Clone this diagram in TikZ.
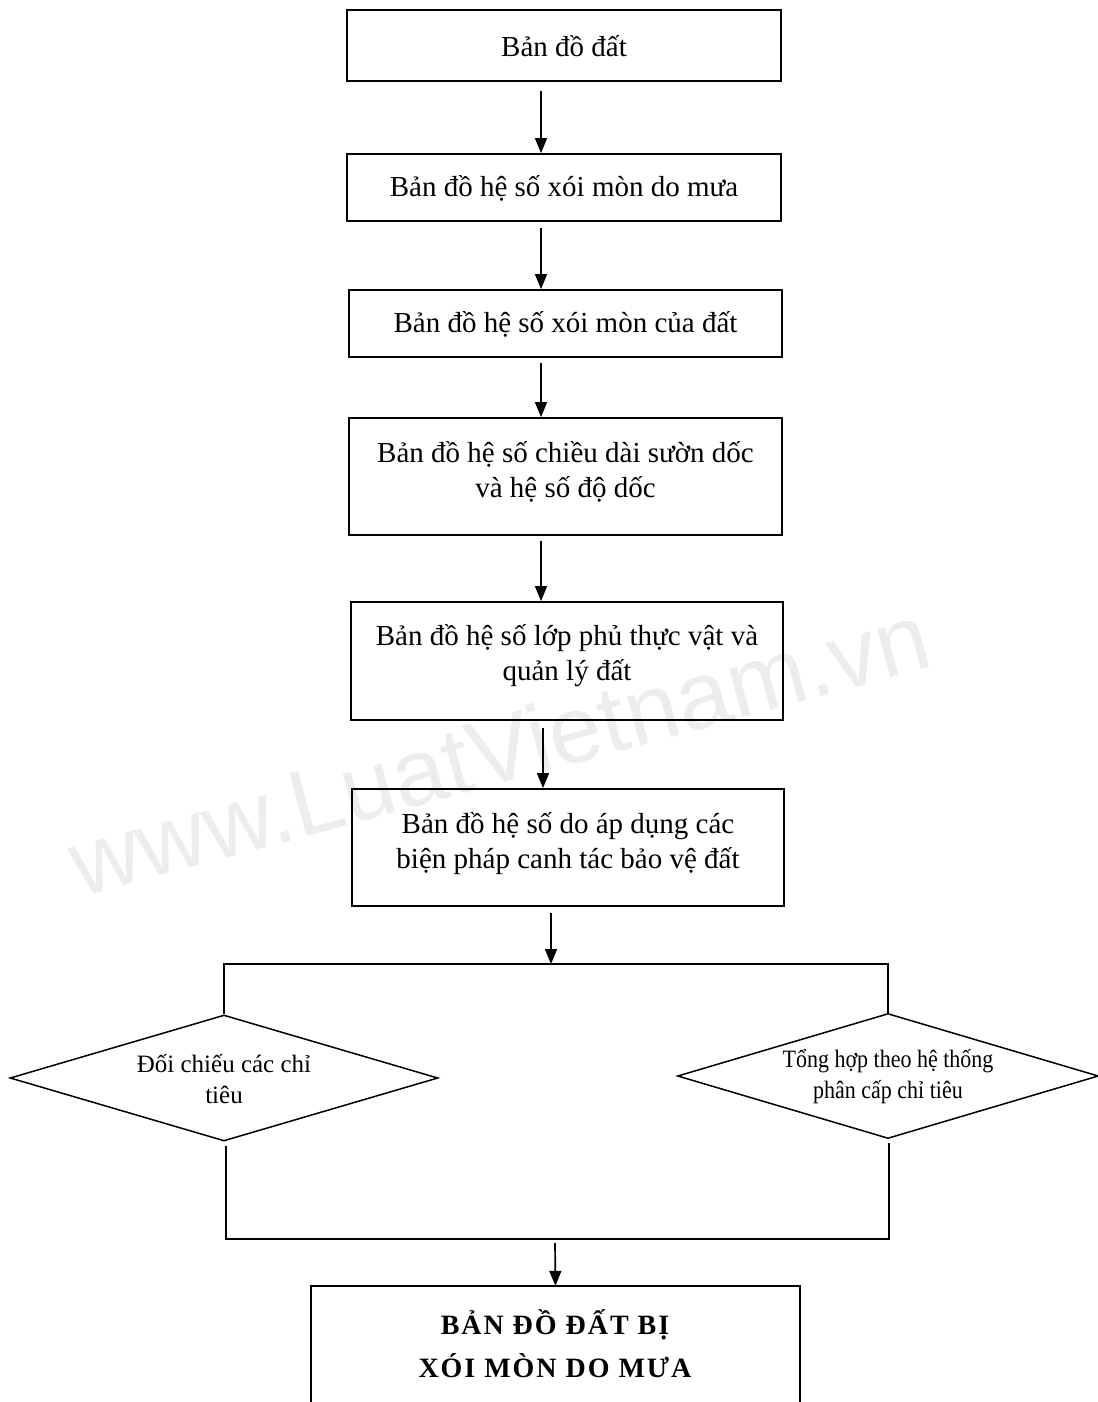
\documentclass[tikz,border=0pt]{standalone}
\usepackage{fontspec}
\setmainfont{Liberation Serif}
\newfontfamily\wmfont{Liberation Sans}
\newfontfamily\spacedserif[LetterSpace=7]{Liberation Serif}
\usetikzlibrary{shapes.geometric,arrows.meta,calc}
\begin{document}
\begin{tikzpicture}[x=1pt,y=-1pt,
  boxn/.style={draw, line width=1.9pt, inner sep=0pt},
  txt/.style={font=\fontsize{29}{35}\selectfont, align=center, inner sep=0pt},
  dtxt/.style={font=\fontsize{25}{31}\selectfont, align=center, inner sep=0pt},
  ln/.style={line width=1.5pt},
  arr/.style={line width=1.7pt, -{Triangle[length=15pt,width=12pt]}},
  dia/.style={draw, diamond, line width=1.5pt, inner sep=0pt}]
\useasboundingbox (0,0) rectangle (1097,1402);
% watermark
\node[rotate=15.2, text=black!7, font=\wmfont\fontsize{95}{95}\selectfont] (wm) at (499,749) {www.LuatVietnam.vn};
% boxes
\node[boxn, minimum width=434pt, minimum height=71pt] (b1) at (564,45.5) {};
\node[boxn, minimum width=434pt, minimum height=67pt] (b2) at (564,187.5) {};
\node[boxn, minimum width=433pt, minimum height=67pt] (b3) at (565.5,323.5) {};
\node[boxn, minimum width=433pt, minimum height=117pt] (b4) at (565.5,476.5) {};
\node[boxn, minimum width=432pt, minimum height=118pt] (b5) at (567,661) {};
\node[boxn, minimum width=432pt, minimum height=117pt] (b6) at (568,847.5) {};
\node[txt] (t1) at ($(b1.center)+(0,1)$) {Bản đồ đất};
\node[txt] (t2) at ($(b2.center)+(0,1)$) {Bản đồ hệ số xói mòn do mưa};
\node[txt] (t3) at ($(b3.center)+(0,1)$) {Bản đồ hệ số xói mòn của đất};
\node[txt] (t4) at ($(b4.center)+(0,-5)$) {Bản đồ hệ số chiều dài sườn dốc\\và hệ số độ dốc};
\node[txt] (t5) at ($(b5.center)+(0,-5)$) {Bản đồ hệ số lớp phủ thực vật và\\quản lý đất};
\node[txt] (t6) at ($(b6.center)+(0,-4)$) {Bản đồ hệ số do áp dụng các\\biện pháp canh tác bảo vệ đất};
% arrows between boxes
\draw[arr] ($(b1.south)+(-23,9)$) -- ($(b2.north)+(-23,0)$);
\draw[arr] ($(b2.south)+(-23,6)$) -- ($(b3.north)+(-24.5,0)$);
\draw[arr] ($(b3.south)+(-24.5,5)$) -- ($(b4.north)+(-24.5,0)$);
\draw[arr] ($(b4.south)+(-24.5,5)$) -- ($(b5.north)+(-26,0)$);
\draw[arr] ($(b5.south)+(-24,7)$) -- ($(b6.north)+(-25,0)$);
% diamonds
\node[dia, minimum width=428pt, minimum height=126pt] (d1) at (224,1078) {};
\node[dia, minimum width=421pt, minimum height=125pt] (d2) at (888,1076) {};
\node[dtxt] (dt1) at (224,1079) {Đối chiếu các chỉ\\tiêu};
\node[dtxt] (dt2) at (888,1077) {\scalebox{0.88}[1]{Tổng hợp theo hệ thống}\\\scalebox{0.88}[1]{phân cấp chỉ tiêu}};
% junctions
\coordinate (j1) at (551,964);
\coordinate (j2) at (555,1239);
\draw[arr] ($(b6.south)+(-17,6)$) -- (j1);
\draw[ln] (d1.north) |- (j1) -| (d2.north);
\draw[ln] ($(d1.south)+(2,4)$) |- (j2) -| ($(d2.south)+(1,4)$);
% final box
\node[inner sep=0pt, minimum width=489pt, minimum height=116pt] (fin) at (555.5,1344) {};
\draw[line width=1.9pt] (fin.south west) |- (fin.north east) -- (fin.south east);
\draw[arr] ($(j2)+(0,4)$) -- (fin.north);
\node[font=\spacedserif\bfseries\fontsize{28}{43}\selectfont, align=center, inner sep=0pt] (ft) at (555,1344) {BẢN ĐỒ ĐẤT BỊ\\XÓI MÒN DO MƯA};
\end{tikzpicture}
\end{document}
